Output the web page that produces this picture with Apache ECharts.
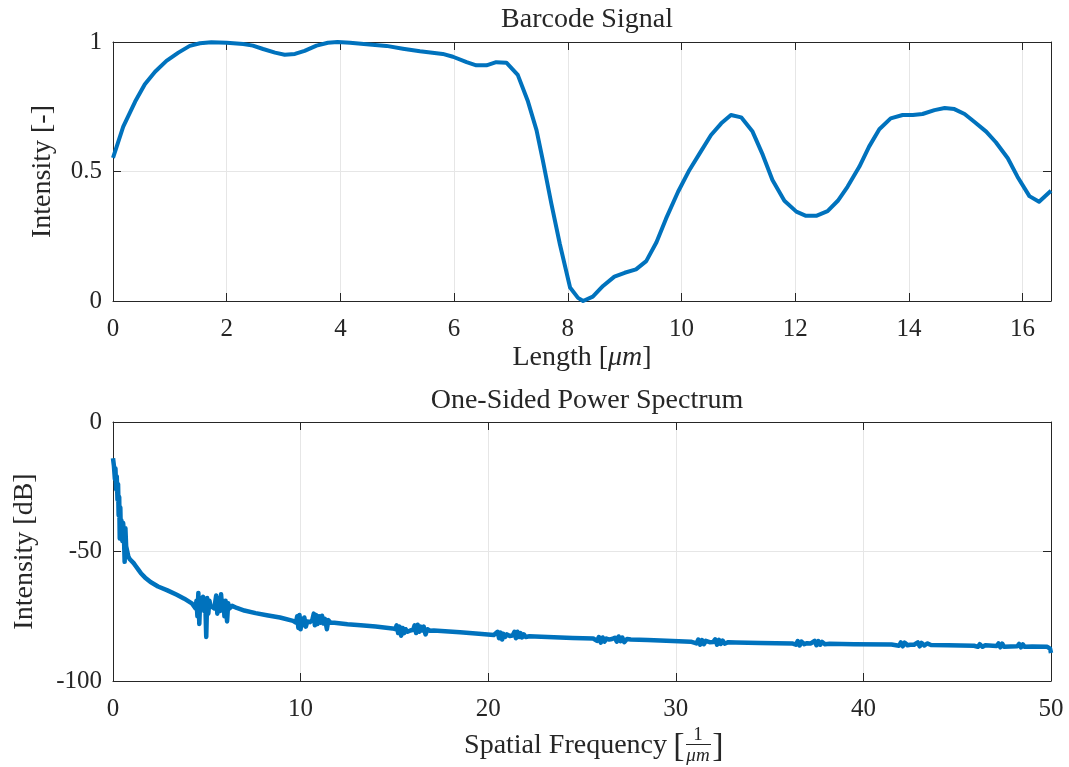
<!DOCTYPE html>
<html>
<head>
<meta charset="utf-8">
<script src="https://cdn.jsdelivr.net/npm/echarts@6/dist/echarts.min.js"></script>
<style>
html,body{margin:0;padding:0;background:#fff;}
#c{width:1069px;height:767px;}
</style>
</head>
<body>
<div id="c"></div>
<script>
// ---- Barcode signal (top) ----
const signalX = [0,0.18,0.39,0.56,0.74,0.94,1.15,1.35,1.53,1.73,2.0,2.29,2.46,2.64,2.85,3.02,3.2,3.37,3.58,3.78,3.95,4.17,4.46,4.81,5.1,5.4,5.8,5.98,6.22,6.39,6.57,6.74,6.92,7.12,7.3,7.45,7.56,7.71,7.86,8.04,8.18,8.27,8.44,8.62,8.82,9.0,9.2,9.38,9.56,9.73,9.94,10.14,10.32,10.52,10.7,10.87,11.05,11.25,11.43,11.6,11.81,12.02,12.19,12.37,12.57,12.75,12.92,13.13,13.3,13.48,13.68,13.89,14.07,14.24,14.45,14.63,14.8,14.98,15.15,15.36,15.53,15.74,15.91,16.12,16.29,16.5];
const signalY = [0.553,0.673,0.77,0.837,0.885,0.927,0.959,0.985,0.995,0.999,0.997,0.992,0.986,0.973,0.959,0.951,0.954,0.966,0.986,0.997,1.0,0.997,0.991,0.985,0.974,0.964,0.954,0.943,0.922,0.91,0.91,0.922,0.92,0.873,0.77,0.66,0.544,0.377,0.22,0.052,0.012,0.0,0.017,0.058,0.094,0.109,0.122,0.154,0.227,0.319,0.422,0.506,0.57,0.641,0.686,0.718,0.709,0.654,0.564,0.467,0.387,0.345,0.329,0.329,0.347,0.387,0.441,0.519,0.596,0.663,0.705,0.718,0.718,0.722,0.737,0.745,0.741,0.722,0.692,0.654,0.613,0.551,0.48,0.405,0.383,0.426];

// ---- One-sided power spectrum (bottom) ----
const specFreq = [0,0.05,0.1,0.13,0.17,0.2,0.24,0.27,0.3,0.33,0.36,0.39,0.42,0.45,0.5,0.54,0.58,0.62,0.66,0.7,0.76,0.82,0.9,1.0,1.1,1.2,1.35,1.5,1.7,2.0,2.4,2.9,3.4,3.8,4.2,
4.3,4.4,4.45,4.5,4.55,4.6,4.65,4.72,4.8,4.86,4.92,4.97,5.02,5.08,5.14,5.2,5.3,5.4,5.5,5.56,5.62,5.7,5.76,5.82,5.88,5.94,6.0,6.08,6.14,6.2,6.35,6.6,7.0,7.6,8.2,8.9,9.6,
9.75,9.82,9.88,9.94,10.0,10.06,10.12,10.2,10.28,10.36,10.5,10.62,10.7,10.76,10.82,10.9,10.98,11.06,11.14,11.22,11.3,11.4,11.48,11.6,11.8,12.5,13.2,14.0,14.9,
15.05,15.12,15.2,15.28,15.36,15.44,15.52,15.6,15.7,15.85,16.0,16.08,16.16,16.24,16.32,16.4,16.48,16.56,16.66,16.76,16.9,17.1,17.3,18.5,19.5,20.3,
20.4,20.5,20.58,20.66,20.74,20.82,20.9,21.0,21.15,21.3,21.4,21.48,21.56,21.64,21.72,21.8,21.9,22.0,22.2,22.5,23.5,24.5,25.6,
25.8,25.9,26.0,26.1,26.2,26.3,26.45,26.6,26.75,26.85,26.95,27.05,27.15,27.25,27.4,27.6,28.5,29.5,30.8,
31.1,31.2,31.3,31.4,31.5,31.6,31.8,32.0,32.1,32.2,32.3,32.4,32.5,32.6,32.8,33.2,34.5,36.2,
36.4,36.5,36.6,36.7,36.85,37.0,37.2,37.4,37.5,37.6,37.7,37.8,37.95,38.2,39.5,41.5,
41.9,42.0,42.1,42.2,42.35,42.5,42.7,42.9,43.0,43.1,43.25,43.4,43.6,44.5,45.9,
46.1,46.2,46.35,46.5,47.1,47.2,47.3,47.4,47.5,48.2,48.3,48.4,48.5,48.6,49.0,49.8,49.95,50.0];
const specDb = [-14,-17,-22,-18,-26,-21,-30,-24,-36,-29,-45,-33,-44,-38,-46,-39,-43,-54,-41,-48,-50,-52,-53,-53,-54.5,-55.5,-57,-58.5,-60,-61.8,-63.5,-65,-66.7,-68.2,-70,
-70.5,-72,-69,-75,-66,-78,-68,-72,-67.5,-73,-70,-83,-68,-74,-69,-71,-70.5,-72,-67,-74,-68,-73,-66.5,-72,-69,-75,-69,-77,-70,-72,-71,-71.8,-72.8,-73.8,-74.6,-75.5,-76.8,
-77.5,-75,-79.5,-74.5,-80,-76,-78.5,-75.5,-79,-77,-77.3,-76.5,-74,-78.5,-74.5,-78,-75,-77.5,-74.8,-77.8,-76,-80,-76.5,-77.5,-77.5,-78.1,-78.5,-79.0,-79.7,
-80,-78.5,-81.5,-79,-82.5,-79.5,-81.5,-80,-81,-80.5,-80.2,-78.5,-81.5,-78.3,-81,-79,-80.5,-79,-82,-80,-80.6,-80.5,-80.6,-81.2,-81.8,-82.2,
-82.5,-81,-83.5,-81.3,-84,-81.8,-83,-82,-82.6,-82.4,-81,-83.5,-81,-83,-81.5,-83.2,-82,-83,-82.7,-82.8,-83.1,-83.4,-83.6,
-84.5,-83,-85.2,-83.2,-84.8,-83.6,-84,-83.8,-83.3,-84.8,-82.8,-84.6,-83.2,-85,-83.8,-84,-84.2,-84.5,-84.8,
-85.5,-84,-86,-84.2,-85.8,-84.5,-85,-84.9,-83.9,-86,-84.1,-85.7,-84.4,-85.6,-85,-85.1,-85.3,-85.5,
-86,-84.6,-86.3,-84.8,-85.8,-85.4,-85.5,-84.5,-86.2,-84.6,-86,-84.9,-85.8,-85.6,-85.8,-85.9,
-86.4,-85.1,-86.6,-85.2,-86.2,-86,-86,-85.1,-86.6,-85.3,-86.3,-85.5,-86.1,-86.2,-86.4,
-86.8,-85.8,-86.8,-86.2,-86.5,-85.5,-87,-85.6,-86.8,-86.6,-85.7,-87,-85.9,-86.8,-86.7,-86.8,-87.5,-89.2];

const FONT = '"Liberation Serif", "DejaVu Serif", serif';
const AX = '#262626';
const GRIDC = '#e6e6e6';
const LINEC = '#0072BD';
const TICKFS = 25, NAMEFS = 28, TITLEFS = 28;

function zip(a,b){ return a.map((v,i)=>[v,b[i]]); }

function mainX(grid, min, max, interval, name, gap){
  return {
    gridIndex: grid, type:'value', min:min, max:max, interval:interval, position:'bottom',
    axisLine:{show:true, onZero:false, lineStyle:{color:AX, width:1}},
    axisTick:{show:true, inside:true, length:8, lineStyle:{color:AX}},
    axisLabel:{show:true, showMaxLabel: max % interval === 0, color:AX, fontFamily:FONT, fontSize:TICKFS, margin:16},
    splitLine:{show:true, lineStyle:{color:GRIDC, width:1}},
    name:name, nameLocation:'middle', nameGap:gap,
    nameTextStyle:{color:AX, fontFamily:FONT, fontSize:NAMEFS, rich:{i:{fontStyle:'italic', fontFamily:FONT, fontSize:NAMEFS, color:AX}}}
  };
}
function frameX(grid, min, max, interval){
  return {
    gridIndex: grid, type:'value', min:min, max:max, interval:interval, position:'top',
    axisLine:{show:true, onZero:false, lineStyle:{color:AX, width:1}},
    axisTick:{show:true, inside:true, length:8, lineStyle:{color:AX}},
    axisLabel:{show:false}, splitLine:{show:false}
  };
}
function mainY(grid, min, max, interval, name, gap){
  return {
    gridIndex: grid, type:'value', min:min, max:max, interval:interval, position:'left',
    axisLine:{show:true, onZero:false, lineStyle:{color:AX, width:1}},
    axisTick:{show:true, inside:true, length:8, lineStyle:{color:AX}},
    axisLabel:{show:true, color:AX, fontFamily:FONT, fontSize:TICKFS, margin:11},
    splitLine:{show:true, lineStyle:{color:GRIDC, width:1}},
    name:name, nameLocation:'middle', nameGap:gap, nameRotate:90,
    nameTextStyle:{color:AX, fontFamily:FONT, fontSize:NAMEFS}
  };
}
function frameY(grid, min, max, interval){
  return {
    gridIndex: grid, type:'value', min:min, max:max, interval:interval, position:'right',
    axisLine:{show:true, onZero:false, lineStyle:{color:AX, width:1}},
    axisTick:{show:true, inside:true, length:8, lineStyle:{color:AX}},
    axisLabel:{show:false}, splitLine:{show:false}
  };
}

const chart = echarts.init(document.getElementById('c'), null, {renderer:'canvas'});
const option = {
  backgroundColor:'#ffffff',
  animation:false,
  title:[
    {text:'Barcode Signal', left:582, top:1, textAlign:'center', textStyle:{color:AX, fontFamily:FONT, fontSize:TITLEFS, fontWeight:'normal'}},
    {text:'One-Sided Power Spectrum', left:582, top:382, textAlign:'center', textStyle:{color:AX, fontFamily:FONT, fontSize:TITLEFS, fontWeight:'normal'}}
  ],
  grid:[
    {left:113, top:42, width:938, height:259},
    {left:113, top:422, width:938, height:259}
  ],
  xAxis:[
    mainX(0, 0, 16.5, 2, 'Length [{i|μm}]', 43),
    frameX(0, 0, 16.5, 2),
    mainX(1, 0, 50, 10, '', 40),
    frameX(1, 0, 50, 10)
  ],
  yAxis:[
    mainY(0, 0, 1, 0.5, 'Intensity [-]', 56),
    frameY(0, 0, 1, 0.5),
    mainY(1, -100, 0, 50, 'Intensity [dB]', 74),
    frameY(1, -100, 0, 50)
  ],
  series:[
    {type:'line', xAxisIndex:0, yAxisIndex:0, data:zip(signalX, signalY), showSymbol:false, smooth:false,
     lineStyle:{color:LINEC, width:4, join:'round'}, clip:true},
    {type:'line', xAxisIndex:2, yAxisIndex:2, data:zip(specFreq, specDb), showSymbol:false, smooth:false,
     lineStyle:{color:LINEC, width:4.5, join:'round'}, clip:true}
  ],
  graphic:[
    {type:'text', x:667, y:746, style:{text:'Spatial Frequency', font:NAMEFS + 'px ' + FONT, fill:AX, align:'right', verticalAlign:'middle'}},
    {type:'text', x:679, y:747, style:{text:'[', font:'34px ' + FONT, fill:AX, align:'center', verticalAlign:'middle'}},
    {type:'text', x:698, y:735, style:{text:'1', font:'19px ' + FONT, fill:AX, align:'center', verticalAlign:'middle'}},
    {type:'line', shape:{x1:686, y1:744.5, x2:711, y2:744.5}, style:{stroke:AX, lineWidth:1}},
    {type:'text', x:698, y:756, style:{text:'μm', font:'italic 19px ' + FONT, fill:AX, align:'center', verticalAlign:'middle'}},
    {type:'text', x:718, y:747, style:{text:']', font:'34px ' + FONT, fill:AX, align:'center', verticalAlign:'middle'}}
  ]
};
chart.setOption(option);
</script>
</body>
</html>
